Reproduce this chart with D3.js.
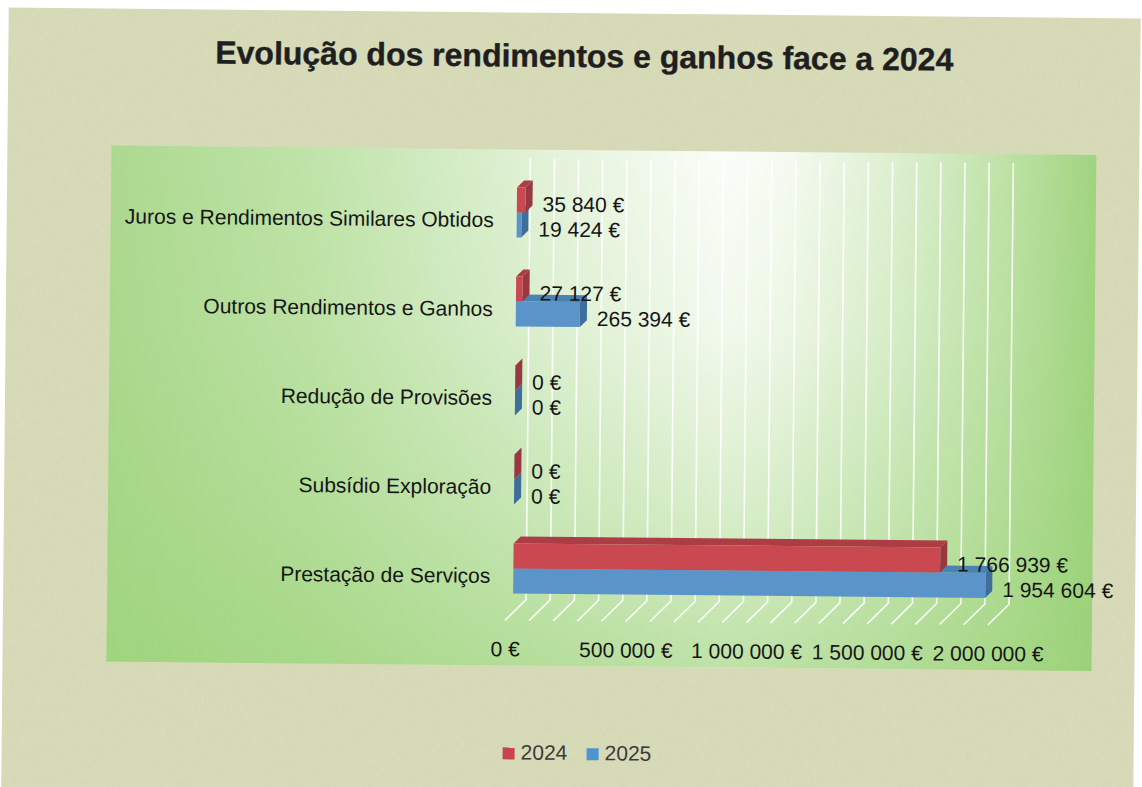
<!DOCTYPE html>
<html>
<head>
<meta charset="utf-8">
<script src="https://cdn.jsdelivr.net/npm/d3@7"></script>
<style>
  html, body { margin: 0; padding: 0; background: #ffffff; }
  svg { display: block; }
</style>
</head>
<body>
<svg id="chart" width="1142" height="787"></svg>
<script>
// ---- data ----
const categories = [
  "Juros e Rendimentos Similares Obtidos",
  "Outros Rendimentos e Ganhos",
  "Redução de Provisões",
  "Subsídio Exploração",
  "Prestação de Serviços"
];
const seriesNames = ["2024", "2025"];
const values2024 = [35840, 27127, 0, 0, 1766939];
const values2025 = [19424, 265394, 0, 0, 1954604];
const tickValues = [0, 500000, 1000000, 1500000, 2000000];
const titleText = "Evolução dos rendimentos e ganhos face a 2024";

// ---- setup ----
const W = 1142, H = 787;
const svg = d3.select("#chart");
const defs = svg.append("defs");

const plot = {x0: 109, y0: 150, x1: 1094, y1: 666};

const hGrad = defs.append("linearGradient")
  .attr("id", "plotH").attr("gradientUnits", "userSpaceOnUse")
  .attr("x1", plot.x0).attr("y1", 0).attr("x2", plot.x1).attr("y2", 0);
[[0, "#acd98f"], [0.2, "#bfe3a8"], [0.42, "#e0f1d5"], [0.62, "#fbfdf9"], [0.68, "#f6fbf2"], [0.8, "#dcefcf"], [0.9, "#c1e3aa"], [1, "#a0d480"]]
  .forEach(([o, c]) => hGrad.append("stop").attr("offset", o).attr("stop-color", c));

const vGrad = defs.append("linearGradient")
  .attr("id", "plotV").attr("gradientUnits", "userSpaceOnUse")
  .attr("x1", 0).attr("y1", plot.y0).attr("x2", 0).attr("y2", plot.y1);
[[0, 0], [0.35, 0.1], [0.7, 0.35], [1, 0.62]]
  .forEach(([o, a]) => vGrad.append("stop").attr("offset", o).attr("stop-color", "#98d174").attr("stop-opacity", a));

const noise = defs.append("filter").attr("id", "noise").attr("x", 0).attr("y", 0).attr("width", 1).attr("height", 1);
noise.append("feTurbulence").attr("type", "fractalNoise").attr("baseFrequency", "0.9 0.12").attr("numOctaves", 2).attr("seed", 4);
noise.append("feColorMatrix").attr("type", "saturate").attr("values", 0);

const fmtLocale = d3.formatLocale({decimal: ",", thousands: " ", grouping: [3], currency: ["", " €"]});
const fmt = fmtLocale.format("$,.0f");

const root = svg.append("g").attr("transform", "rotate(0.55 571 400)");

// paper
root.append("rect").attr("x", 5).attr("y", 13).attr("width", 1132).attr("height", 780).attr("fill", "#d8dbb7");
root.append("rect").attr("x", 5).attr("y", 13).attr("width", 1132).attr("height", 780)
  .attr("filter", "url(#noise)").attr("opacity", 0.08);

// plot area
root.append("rect").attr("x", plot.x0).attr("y", plot.y0)
  .attr("width", plot.x1 - plot.x0).attr("height", plot.y1 - plot.y0)
  .attr("fill", "url(#plotH)");
root.append("rect").attr("x", plot.x0).attr("y", plot.y0)
  .attr("width", plot.x1 - plot.x0).attr("height", plot.y1 - plot.y0)
  .attr("fill", "url(#plotV)");

// scales
const x = d3.scaleLinear().domain([0, 2000000]).range([507, 990]);
const y = d3.scaleBand().domain(categories).range([176.5, 621.5]);

const floorFront = 621, floorDepth = 21, wallTop = 159;
const depthOff = 8, bd = 7, barH = 25;

// gridlines (every 100 000)
const gridVals = x.ticks(20);
const grid = root.append("g").attr("stroke", "#ffffff").attr("stroke-width", 1.6).attr("fill", "none").attr("opacity", 0.9);
grid.selectAll("path.g").data(gridVals).join("path")
  .attr("d", v => `M${x(v)},${floorFront} L${x(v) + floorDepth},${floorFront - floorDepth} L${x(v) + floorDepth},${wallTop}`);

// bars
const series = [
  {name: seriesNames[1], values: values2025, front: "#5a94c9", top: "#4c81b4", side: "#3f6e9b", pos: 1},
  {name: seriesNames[0], values: values2024, front: "#ca4850", top: "#ad3d44", side: "#983840", pos: 0}
];
const barsG = root.append("g");
series.forEach(s => {
  const g = barsG.append("g");
  categories.forEach((c, i) => {
    const v = s.values[i];
    const yb = y(c) + y.bandwidth() / 2 - depthOff;
    const y0 = s.pos === 0 ? yb - barH : yb;
    const y1 = y0 + barH;
    const x0 = x(0) + depthOff;
    const x1 = x(v) + depthOff;
    g.append("path").attr("fill", s.top)
      .attr("d", `M${x0},${y0} L${x1},${y0} L${x1 + bd},${y0 - bd} L${x0 + bd},${y0 - bd} Z`);
    g.append("path").attr("fill", s.side)
      .attr("d", `M${x1},${y0} L${x1 + bd},${y0 - bd} L${x1 + bd},${y1 - bd} L${x1},${y1} Z`);
    if (x1 > x0) {
      g.append("rect").attr("x", x0).attr("y", y0).attr("width", x1 - x0).attr("height", barH).attr("fill", s.front);
    }
  });
});

// data labels
const labG = root.append("g").attr("font-family", "'Liberation Sans', Arial, sans-serif")
  .attr("font-size", 21).attr("fill", "#151515");
series.forEach(s => {
  categories.forEach((c, i) => {
    const v = s.values[i];
    const yb = y(c) + y.bandwidth() / 2 - depthOff;
    const y0 = s.pos === 0 ? yb - barH : yb;
    labG.append("text")
      .attr("x", x(v) + depthOff + bd + 10)
      .attr("y", y0 + barH / 2 + 4)
      .attr("dy", "0.35em")
      .text(fmt(v));
  });
});

// category axis
const yAxis = root.append("g").attr("transform", "translate(492,0)")
  .call(d3.axisLeft(y).tickSize(0).tickPadding(0));
yAxis.select(".domain").remove();
yAxis.selectAll("text").attr("font-family", "'Liberation Sans', Arial, sans-serif")
  .attr("font-size", 21).attr("fill", "#151515");

// value axis labels
const xAxis = root.append("g").attr("transform", "translate(0,642)")
  .call(d3.axisBottom(x).tickValues(tickValues).tickFormat(fmt).tickSize(0).tickPadding(0));
xAxis.select(".domain").remove();
xAxis.selectAll("text").attr("font-family", "'Liberation Sans', Arial, sans-serif")
  .attr("font-size", 21).attr("fill", "#151515");

// title
root.append("text").attr("x", 581).attr("y", 67).attr("text-anchor", "middle")
  .attr("font-family", "'Liberation Sans', Arial, sans-serif").attr("font-weight", "bold")
  .attr("font-size", 32).attr("fill", "#1f1f1f")
  .attr("stroke", "#1f1f1f").attr("stroke-width", 0.4)
  .text(titleText);

// legend
const legendColors = {"2024": "#c9444c", "2025": "#4f93cf"};
const legendX = [506, 590];
const leg = root.append("g");
seriesNames.forEach((n, i) => {
  leg.append("rect").attr("x", legendX[i]).attr("y", 748).attr("width", 12).attr("height", 12).attr("fill", legendColors[n]);
  leg.append("text").attr("x", legendX[i] + 18).attr("y", 760)
    .attr("font-family", "'Liberation Sans', Arial, sans-serif").attr("font-size", 21)
    .attr("fill", "#3a3a3a").text(n);
});
</script>
</body>
</html>
